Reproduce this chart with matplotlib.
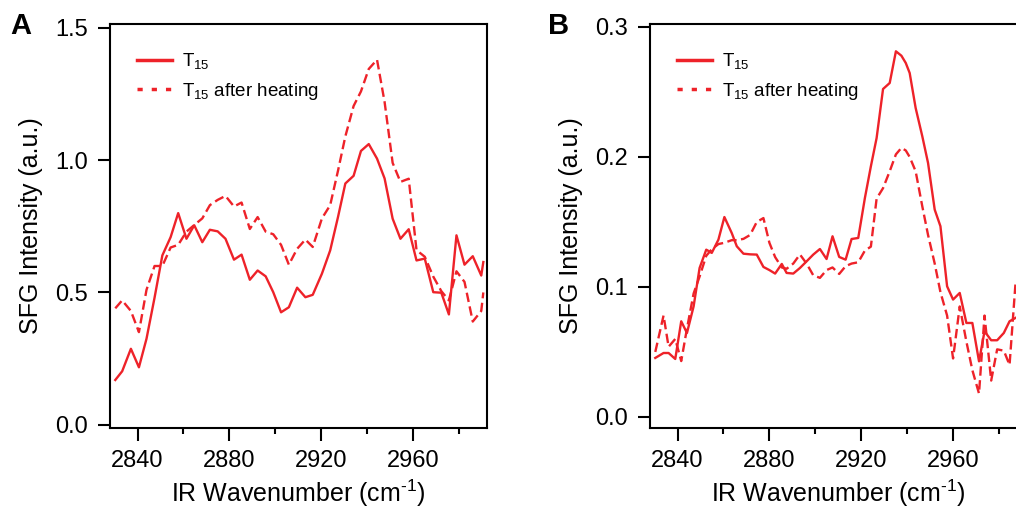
import matplotlib
matplotlib.use("Agg")
import matplotlib.pyplot as plt
from matplotlib.lines import Line2D

plt.rcParams['font.family'] = ['Liberation Sans', 'DejaVu Sans']
plt.rcParams['mathtext.fontset'] = 'custom'
plt.rcParams['mathtext.rm'] = 'Liberation Sans'
plt.rcParams['mathtext.default'] = 'regular'

# ---------------- Data ----------------
wavenumber_a = [2830.3, 2833.3, 2837.1, 2840.6, 2843.9, 2847.4, 2850.8, 2854.4, 2857.7, 2861.3,
                2864.7, 2868.2, 2871.5, 2874.9, 2878.3, 2882.0, 2885.3, 2888.9, 2892.3, 2895.8,
                2899.1, 2902.5, 2905.9, 2909.5, 2913.1, 2916.3, 2920.3, 2923.9, 2927.3, 2930.5,
                2934.1, 2937.3, 2940.7, 2944.3, 2947.6, 2951.1, 2954.5, 2958.1, 2961.5, 2965.1,
                2968.8, 2972.3, 2975.6, 2978.9, 2982.4, 2986.0, 2989.7, 2990.6]
t15_a = [0.169, 0.202, 0.287, 0.217, 0.325, 0.48, 0.64, 0.709, 0.80, 0.703,
         0.754, 0.69, 0.737, 0.731, 0.703, 0.624, 0.643, 0.548, 0.583, 0.561,
         0.501, 0.425, 0.444, 0.518, 0.482, 0.491, 0.571, 0.659, 0.785, 0.912,
         0.941, 1.035, 1.061, 1.006, 0.931, 0.779, 0.703, 0.739, 0.621, 0.628,
         0.501, 0.499, 0.417, 0.716, 0.605, 0.637, 0.564, 0.615]
t15_heated_a = [0.44, 0.47, 0.43, 0.35, 0.51, 0.60, 0.60, 0.67, 0.68, 0.73,
                0.755, 0.78, 0.83, 0.85, 0.865, 0.825, 0.84, 0.74, 0.785, 0.73,
                0.72, 0.68, 0.605, 0.665, 0.70, 0.672, 0.78, 0.83, 0.96, 1.09,
                1.205, 1.26, 1.345, 1.38, 1.22, 0.99, 0.918, 0.93, 0.66, 0.635,
                0.56, 0.505, 0.47, 0.58, 0.54, 0.39, 0.43, 0.50]

wavenumber_b = [2830.3, 2833.9, 2836.1, 2839.0, 2841.6, 2844.1, 2847.0, 2849.6, 2852.5, 2854.9,
                2857.8, 2860.4, 2863.6, 2865.8, 2868.7, 2871.6, 2874.5, 2877.4, 2880.0, 2882.5,
                2885.4, 2887.5, 2890.4, 2893.3, 2896.2, 2899.1, 2902.0, 2904.9, 2907.5, 2910.4,
                2913.2, 2915.8, 2918.7, 2921.6, 2924.2, 2926.7, 2929.5, 2932.4, 2935.1, 2937.5,
                2939.4, 2941.1, 2943.7, 2946.6, 2949.1, 2952.0, 2954.5, 2957.4, 2960.0, 2962.9,
                2965.8, 2968.4, 2971.3, 2973.7, 2976.6, 2979.2, 2982.1, 2984.6, 2987.2]
t15_b = [0.0454, 0.0492, 0.0492, 0.0446, 0.0736, 0.0646, 0.0851, 0.1146, 0.1287, 0.1262,
         0.1364, 0.1538, 0.1415, 0.1313, 0.1256, 0.1251, 0.1249, 0.1154, 0.113, 0.1103,
         0.1177, 0.1108, 0.1103, 0.1146, 0.1197, 0.1249, 0.1292, 0.1215, 0.139, 0.1231,
         0.121, 0.1369, 0.1377, 0.1685, 0.1928, 0.2146, 0.2523, 0.2569, 0.2813, 0.2779,
         0.2723, 0.2646, 0.2377, 0.2159, 0.1954, 0.1595, 0.1467, 0.1005, 0.0903, 0.0954,
         0.0723, 0.0723, 0.0428, 0.0659, 0.059, 0.059, 0.0646, 0.0736, 0.0762]
t15_heated_b = [0.050, 0.078, 0.054, 0.060, 0.043, 0.068, 0.095, 0.108, 0.124, 0.129,
                0.133, 0.134, 0.136, 0.136, 0.137, 0.140, 0.150, 0.153, 0.134, 0.123,
                0.115, 0.114, 0.118, 0.125, 0.118, 0.109, 0.107, 0.113, 0.115, 0.110,
                0.116, 0.118, 0.119, 0.128, 0.131, 0.168, 0.176, 0.189, 0.202, 0.207,
                0.205, 0.200, 0.189, 0.162, 0.140, 0.118, 0.096, 0.078, 0.045, 0.085,
                0.058, 0.036, 0.018, 0.078, 0.028, 0.052, 0.051, 0.040, 0.103]

xticks_major = [2840, 2880, 2920, 2960]
xticks_minor = [2860, 2900, 2940, 2980]
yticks_a = [0.0, 0.5, 1.0, 1.5]
yticks_b = [0.0, 0.1, 0.2, 0.3]
legend_labels = [r'T$_{15}$', r'T$_{15}$ after heating']

RED = '#EE2229'

fig = plt.figure(figsize=(10.16, 5.12), dpi=100)
ax_a = fig.add_axes([110 / 1016, 1 - 428 / 512, 377 / 1016, 404 / 512])
ax_b = fig.add_axes([650 / 1016, 1 - 428 / 512, 377 / 1016, 404 / 512])


def style(ax, yticks, ylim, ylabels):
    ax.set_xlim(2828, 2992.2)
    ax.set_ylim(*ylim)
    ax.set_xticks(xticks_major)
    ax.set_xticks(xticks_minor, minor=True)
    ax.set_yticks(yticks)
    ax.set_yticklabels(ylabels)
    ax.tick_params(axis='both', which='major', direction='out', length=9, width=1.5,
                   labelsize=17, colors='black')
    ax.tick_params(axis='y', which='major', pad=7)
    ax.tick_params(axis='x', which='major', pad=7)
    ax.tick_params(axis='x', which='minor', direction='out', length=4.5, width=1.5)
    for s in ax.spines.values():
        s.set_linewidth(1.5)
    ax.set_xlabel(r'IR Wavenumber (cm$^{\text{-}1}$)', fontsize=18, labelpad=4)
    ax.set_ylabel('SFG Intensity (a.u.)', fontsize=18, labelpad=9)


ax_a.plot(wavenumber_a, t15_a, color=RED, lw=1.7)
ax_a.plot(wavenumber_a, t15_heated_a, color=RED, lw=1.7, ls=(0, (4, 1.9)))
style(ax_a, yticks_a, (-0.0125, 1.515), ['0.0', '0.5', '1.0', '1.5'])

ax_b.plot(wavenumber_b, t15_b, color=RED, lw=1.7)
ax_b.plot(wavenumber_b, t15_heated_b, color=RED, lw=1.7, ls=(0, (4, 1.9)))
style(ax_b, yticks_b, (-0.0085, 0.3023), ['0.0', '0.1', '0.2', '0.3'])

for ax in (ax_a, ax_b):
    handles = [Line2D([], [], color=RED, lw=2.5),
               Line2D([], [], color=RED, lw=2.5, ls=(0, (1.5, 2.6)))]
    ax.legend(handles, legend_labels, loc='upper left', bbox_to_anchor=(0.037, 0.965),
              frameon=False, fontsize=13.5, handlelength=1.85, handletextpad=0.55,
              labelspacing=0.5, borderaxespad=0.3)

fig.text(10 / 1016, 1 - 26 / 512, 'A', fontsize=21, fontweight='bold', va='center', ha='left')
fig.text(548 / 1016, 1 - 26 / 512, 'B', fontsize=21, fontweight='bold', va='center', ha='left')

fig.savefig('out.png', dpi=100)
